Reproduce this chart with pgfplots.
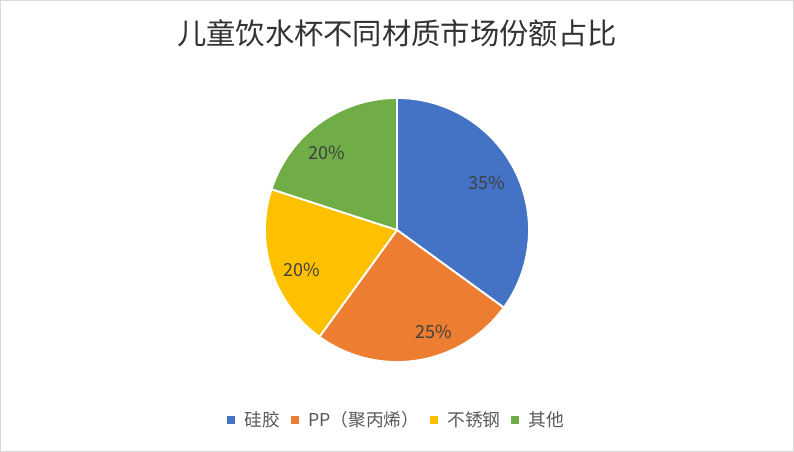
\documentclass[border=0pt]{standalone}
\usepackage{pgfplots}
\usepackage{pgfplotstable}
\pgfplotsset{compat=1.18}
\usepackage{fontspec}
\setmainfont{Noto Sans CJK SC}

\definecolor{cBlue}{HTML}{4472C4}
\definecolor{cOrange}{HTML}{ED7D31}
\definecolor{cYellow}{HTML}{FFC000}
\definecolor{cGreen}{HTML}{70AD47}
\definecolor{cText}{HTML}{404040}
\definecolor{cTitle}{HTML}{333333}
\definecolor{cLegend}{HTML}{595959}
\definecolor{cBorder}{HTML}{D9D9D9}

% share of each material (%), with where its label sits (angle shift, radius in pt)
\pgfplotstableread[col sep=comma]{
name,value,colour,labshift,labr
硅胶,35,cBlue,1,76
PP（聚丙烯）,25,cOrange,11,81.5
不锈钢,20,cYellow,5,77.5
其他,20,cGreen,6.5,78
}\piedata

\begin{document}
\begin{tikzpicture}
  % slice angles, clockwise from 12 o'clock
  \def\acc{90}
  \pgfplotsforeachungrouped \i in {0,...,3}{%
    \pgfplotstablegetelem{\i}{value}\of\piedata \let\v\pgfplotsretval
    \pgfplotstablegetelem{\i}{labshift}\of\piedata \let\ls\pgfplotsretval
    \pgfplotstablegetelem{\i}{labr}\of\piedata \let\lr\pgfplotsretval
    \pgfmathsetmacro\e{\acc-3.6*\v}%
    \pgfmathsetmacro\m{(\acc+\e)/2+\ls}%
    \expandafter\xdef\csname pieS\i\endcsname{\acc}%
    \expandafter\xdef\csname pieE\i\endcsname{\e}%
    \expandafter\xdef\csname pieM\i\endcsname{\m}%
    \expandafter\xdef\csname pieR\i\endcsname{\lr}%
    \expandafter\xdef\csname pieV\i\endcsname{\v}%
    \pgfplotstablegetelem{\i}{colour}\of\piedata
    \expandafter\xdef\csname pieC\i\endcsname{\pgfplotsretval}%
    \pgfplotstablegetelem{\i}{name}\of\piedata
    \expandafter\xdef\csname pieN\i\endcsname{\pgfplotsretval}%
    \xdef\acc{\e}%
  }
  \begin{axis}[
      scale only axis,
      width=595.5pt, height=339pt,
      xmin=0, xmax=794, ymin=0, ymax=452,
      hide axis, clip=false,
      legend columns=-1,
      legend style={at={(axis cs:397,32)}, anchor=center, draw=none, fill=none,
        font=\fontsize{13.3}{15}\selectfont, text=cLegend,
        /tikz/every odd column/.append style={column sep=5.5pt},
        /tikz/every even column/.append style={column sep=6pt}},
    ]
    \draw[cBorder, line width=0.75pt] (axis cs:0.5,0.5) rectangle (axis cs:793.5,451.5);
    \node[text=cTitle] at (axis cs:397,418.5) {\fontsize{22}{26}\selectfont 儿童饮水杯不同材质市场份额占比};

    \pgfplotsinvokeforeach{0,...,3}{
      \fill[\csname pieC#1\endcsname, draw=white, line width=1.4pt, line join=round]
        (axis cs:397,222) -- ([shift={(\csname pieS#1\endcsname:99pt)}]axis cs:397,222)
        arc[start angle=\csname pieS#1\endcsname, end angle=\csname pieE#1\endcsname, radius=99pt]
        -- cycle;
    }
    \pgfplotsinvokeforeach{0,...,3}{
      \node[text=cText, font=\fontsize{13.5}{15}\selectfont]
        at ([shift={(\csname pieM#1\endcsname:\csname pieR#1\endcsname pt)}]axis cs:397,222)
        {\csname pieV#1\endcsname\%};
      \addlegendimage{legend image code/.code={\fill[\csname pieC#1\endcsname] (0pt,-2.6pt) rectangle (5.2pt,2.6pt);}}
      \addlegendentry{\csname pieN#1\endcsname}
    }
  \end{axis}
\end{tikzpicture}
\end{document}
